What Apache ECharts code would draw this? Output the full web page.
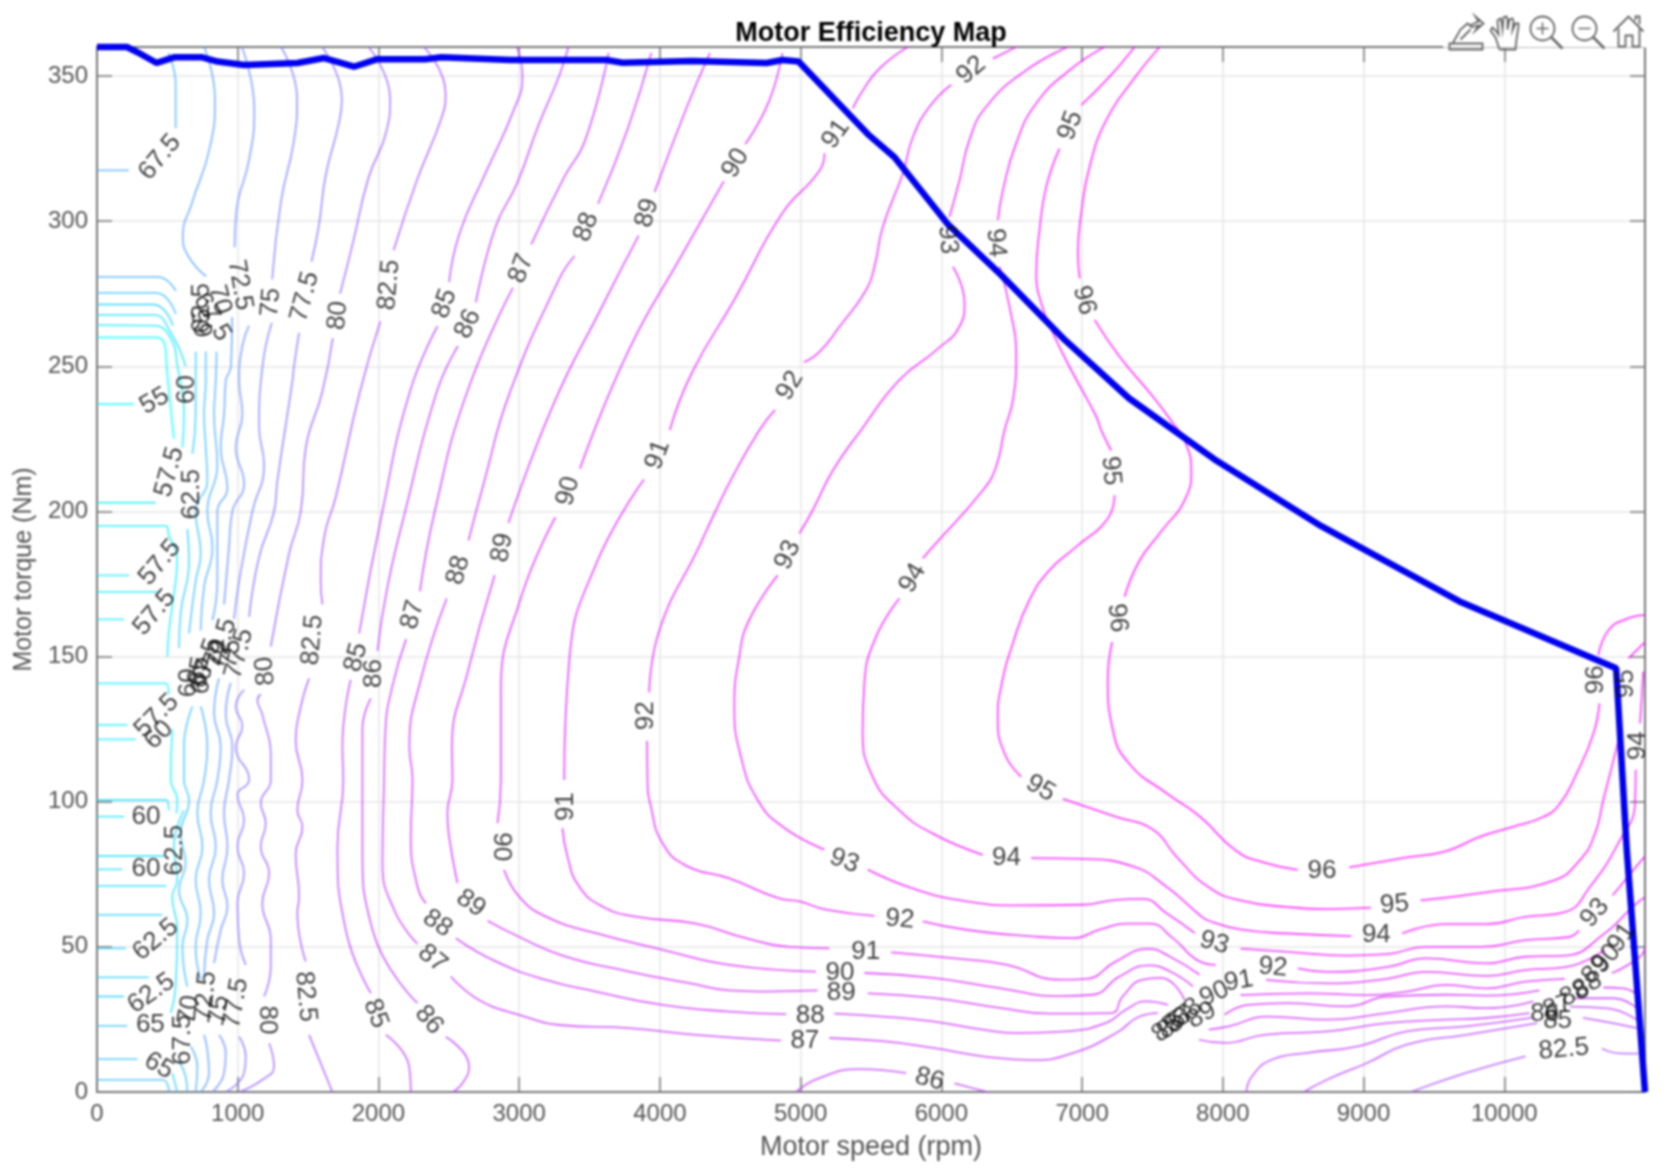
<!DOCTYPE html>
<html><head><meta charset="utf-8">
<style>html,body{margin:0;padding:0;background:#fff}#c{width:1671px;height:1175px;filter:blur(0.8px)}</style>
<script src="https://cdn.jsdelivr.net/npm/echarts@6/dist/echarts.min.js"></script>
</head><body><div id="c"></div>
<script>
const titleText='Motor Efficiency Map', xName='Motor speed (rpm)', yName='Motor torque (Nm)';
const maxTorque=[[0,360],[212,360],[310,357.6],[424,354.5],[553,356.5],[742,356.5],[856,355],[1045,353.8],[1424,354.5],[1614,356.2],[1826,353.2],[1992,355.8],[2333,355.8],[2447,356.5],[2939,355.5],[3621,355.5],[3735,354.6],[4227,355.2],[4758,354.5],[4871,355.5],[4985,355],[5477,330],[5667,322],[6045,299],[6424,281.5],[6879,259],[7333,239],[7939,218],[8697,195],[9682,169],[10795,146],[10871,83],[11000,0]];
const c55=[[0,260],[420,260],[490,255],[495,250],[530,233],[547,225],null,[0,237],[263,237]];
const c57_5=[[0,264.2],[400,264],[520,260],[572,250],[618,233],[606,222],null,[0,203],[417,203],null,[0,195],[490,195],[512,191.5],[570,184],[559,176],[512,159],[500,150],null,[0,178],[227,178],null,[0,172.3],[430,172.3],null,[0,162.8],[191,162.8],null,[0,140.8],[488,140.8],[510,137],null,[0,126.5],[216,126.5],null,[0,121.5],[275,121.5],null,[535,125],[524,107.5],[571,100.6],[564,96]];
const c60=[[0,267.7],[400,267.7],[520,262],[630,250],null,[0,100.6],[490,100.6],[510,97],null,[0,94.9],[192,94.9],null,[0,81.3],[476,81.3],null,[0,76.7],[180,76.7],null,[0,71],[493,71],null,[618,97],[547,84.5],[571,73],[535,67.3],[571,56],[559,36.3],[524,27.2]];
const c62_5=[[0,271.3],[400,271.3],[540,264],null,[702,255],[701,245],[701,233.5],[678,219.8],null,[642,194],[654,183],[595,165],[583,153],null,[0,61],[464,61],null,[0,49.5],[204,49.5],null,[0,39.5],[370,39.5],null,[0,32.9],[192,32.9],null,[535,6.5],[571,0]];
const c65=[[0,275.3],[420,275.3],[560,268],null,[773,255],[773,245],[761,233.5],[773,222],[784,210.6],[701,200],[737,185.5],[701,176],[654,158],null,[0,22.8],[215,22.8],null,[0,11.3],[287,11.3],null,[0,4.2],[464,4.2],[512,0],null,[678,132.8],[618,119],[618,107.5],[654,100.6],[595,89],[630,78.8],[583,69.6],[642,59],[607,50],[642,36.3],null,[583,10.5],[630,5.3],[642,0]];
const c67_5=[[508,358],[559,347],[559,332],null,[0,317.5],[227,317.5],null,[0,280.8],[430,280.8],[560,276],null,[850,255],[844,245],[832,233.5],[855,216],[784,200],[820,187.7],[761,174],[737,159],null,[737,132.8],[784,119],[761,107.5],[713,96],[749,84.5],[701,73],[737,61.6],[701,50],[737,38.6],null,[666,15.7],[713,8.8],[701,0]];
const c70=[[762,360],[838,342],[800,325],[673,306],[610,295],[648,288],[775,281],null,[960,267],[952,250],[915,245],[903,233.5],[879,222],[927,208],[855,200],[855,187.7],[855,176],[820,162.5],null,[867,142.5],[832,130.5],[879,119],[855,107.5],[808,96],[844,84.5],[796,73],[832,61.6],[784,52.4],[761,39.8],null,[761,19.7],[784,14.5],[796,6.5],[737,0]];
const c72_5=[[1029,360],[1118,338],[1080,321],[990,303],[978,291],null,[1080,264],[1033,257],[1010,245],[1033,233.5],[986,222],[1045,209.5],[962,200],[938,187.7],[903,168],null,[950,141],[915,130],[962,119],[938,107.5],[903,96],[927,84.5],[891,73],[927,64],[879,55.8],[832,44.4],null,[867,19.7],[915,13.4],[903,6.5],[820,0]];
const c75=[[1308,360],[1422,342],[1397,327],[1308,307],[1245,280],null,[1242,265],[1176,250],[1152,229],[1187,216],[1104,200],[1010,176],[974,163]];
const c77_5=[[1600,360],[1740,342],[1715,333],[1626,316],[1575,298],[1524,286],null,[1436,261.5],[1400,250],[1389,245],[1282,210.6],[1258,200],[1152,184.3],[1081,163.7],null,[1045,138.5],[986,132.8],[1033,126],[986,119],[1081,107.5],[998,102.3],[1045,93.7],[998,84.5],[1045,75.4],[998,65],[1010,52.4],[1057,43.8],null,[1010,19],[1057,12.2],[1045,6.5],[915,0]];
const c80=[[1930,360],[2083,342],[2057,331],[1930,315],[1816,292],[1727,275],null,[1676,259.7],[1600,241],[1484,222],[1448,200],[1365,185.5],[1235,153.4],null,[1164,137],[1140,135],[1175,130],[1235,115],[1235,107.5],[1164,99.5],[1199,92.6],[1164,84.5],[1223,75.4],[1175,65],[1235,52.4],[1235,43.2],[1187,32.9],null,[1223,16.8],[1258,8.8],[1175,4.2],[1010,0]];
const c82_5=[[2324,360],[2477,344],[2451,336],[2273,314],[2108,290],null,[2014,265.5],[1867,241],[1697,205],[1614,191],[1590,176],[1602,168],null,[1507,142.5],[1448,132.8],[1412,121],[1460,107.5],[1424,97],[1460,91.4],[1412,82],[1436,67.3],[1424,61.6],[1483,45],null,[1507,19.7],[1673,0],null,[9335,0],[9729,6.6],[10151,12.3],null,[10693,15],[10823,13.3],[10952,13.2]];
const c85=[[2985,360],[3023,350],[2959,338],[2756,316],[2578,296],[2502,279],null,[2420,263.8],[2222,241],[2028,200],[1863,158],null,[1803,142],[1744,119],[1750,107.5],[1709,84.5],[1768,55.8],[1946,34],null,[2052,19.7],[2218,8.8],[2230,0],null,[8575,0],[8744,4.3],[9025,10],[9307,16.3],[9729,19.7],[10235,23.7],null,[10559,25.5],[10770,23.7],[10941,22]];
const c86=[[3350,360],[3284,350],[3137,333],[2985,313],[2832,298],[2692,272],null,[2565,257],[2413,241],[2190,200],[2064,174],[1993,152],null,[1946,135.6],[1886,125],[1886,107.5],[1886,84.5],[1958,55.8],[2277,30.6],null,[2478,19],[2644,8.8],[2597,3],[2526,0],null,[4967,0],[5133,4.8],[5418,7.9],[5749,6.5],null,[6093,3],[6330,0],null,[8167,0],[8209,5.5],[8350,11.2],[8603,13.5],[8969,15.8],[9307,20.9],[9729,22.6],[10193,25.5],null,[10468,29.4],[10732,28.8],[10964,24.2]];
const c87=[[3636,358],[3470,328],[3318,315],[3086,292],null,[2955,277],[2629,241],[2400,200],[2295,172.5],null,[2197,156],[2100,140],[2050,125],[2040,107.5],[2029,79],[2112,62.7],[2277,51],null,[2514,39.8],[2715,31.7],[3000,26.6],[3308,23],[3782,22],[4256,19.7],[4860,17.7],null,[5204,18.6],[5583,17.5],[5939,15.2],[6294,12.3],[6650,11],[6934,13.4],[7243,20.3],[7408,26],[7539,27.2],null,[7830,18],[8013,16.9],[8294,19.7],[8744,20.9],[9166,23.7],[9588,24.9],[9869,25.5],[10179,27.2],null,[10492,32.3],[10775,32.3],[10964,28]];
const c88=[[3939,358],[3773,332],[3561,306],null,[3394,288],[3284,280],[2934,241],[2750,210],[2640,190],null,[2485,170],[2295,141],[2220,119],[2242,107.5],[2230,88],[2277,70.8],[2337,65],null,[2550,53],[2834,45],[3190,38.6],[3545,34.6],[4019,30],[4493,27.7],[4896,26.8],null,[5240,27],[5583,26],[5939,24.3],[6294,21.5],[6532,20.3],[6887,20.9],[7171,23.8],[7314,28.4],[7456,31.2],[7610,30],null,[7900,21.5],[8041,22.6],[8322,26],[8744,24.9],[9166,27.2],[9588,29.5],[9869,28.9],[10207,31.2],null,[10704,36],[10846,35.7],[10964,32.8]];
const c89=[[4356,358],[4189,339],[3962,310],null,[3849,295],[3583,270],[3242,236.7],[2924,196],null,[2826,178],[2636,145],[2523,119],[2526,107.5],[2490,96],[2502,88],[2561,72],null,[2775,59],[2976,54],[3308,47],[3782,41.5],[4209,37.5],[4493,35],[4730,34.6],[5120,35],null,[5477,34],[5939,32.4],[6413,29],[6769,27],[7207,27.2],[7290,33],[7432,38.7],[7562,39.3],[7728,31.8],null,[8013,26.6],[8181,30],[8463,30.6],[8885,29.5],[9166,32.9],[9588,33.5],[9869,33.2],[10250,35]];
const c90=[[4871,358],[4773,341],[4606,326.5],null,[4455,313.8],[4152,288],[3773,255],[3432,214.7],null,[3258,198],[3015,170.6],[2870,137.6],[2870,107.5],[2846,92.6],null,[2893,76.5],[3000,67.3],[3190,60.4],[3545,54.7],[4019,49],[4493,43.8],[5109,41.5],null,[5453,41],[5939,39.3],[6413,35.8],[6840,33],[7077,33.5],[7266,39.8],[7480,43.6],[7622,41.6],[7788,36.4],null,[8125,33.4],[8603,34],[9025,33.4],[9307,34.6],[9588,36.9],[9869,35.7],[10150,38],[10431,39],null,[10764,40.9],[10964,46.6],[11000,50]];
const c91=[[5762,360],[5561,352.6],[5442,345],[5371,338.9],null,[5170,323.4],[5136,317.5],[4871,302.8],[4530,273],[4227,247.7],[4070,228],null,[3887,211],[3545,181.7],[3356,148.6],[3320,107.5],null,[3308,90.9],[3344,81],[3426,70.8],[3592,63.9],[3829,60.4],[4256,58],[4611,53],[4920,50],[5204,49.5],null,[5643,48.1],[6057,46.2],[6460,43.9],[6840,38.7],[7029,39],[7242,45],[7468,49.3],[7622,46.7],[7835,40.4],null,[8308,38.6],[8744,37.4],[9166,39],[9447,41.4],[9869,40],[10150,42],[10431,43],[10713,48.9]];
const c92=[[6532,360],[6366,356],null,[6070,347],[5916,339.4],[5798,329],[5727,316.5],[5584,298],[5525,284.3],[5466,276.3],[5276,263.6],[5134,255],[5023,251.4],null,[4818,235],[4707,228],[4517,212],[4375,198],[4280,188],[4000,159.6],[3924,137.6],null,[3909,121],[3912,107.5],[3936,98.3],[4019,85.7],[4185,78],[4493,73.6],[4849,66.7],[4991,65.7],[5181,62.8],[5524,60.7],null,[5868,58.8],[6176,55.9],[6650,53.6],[6934,53],[7124,55.9],[7314,58],[7480,58],[7645,53],[7835,45],[7950,43.8],null,[8533,42.6],[8744,41.4],[9166,43],[9447,46],[9869,44.3],[10150,46.6],[10431,47],[10713,54.6],[10910,63.7],[10995,67]];
const c93=[[6900,360],[6603,352],[6319,339.4],[6200,328],[6129,314],[6058,301.5],null,[6082,284.3],[6165,271.7],[6129,263.7],[5964,255.6],[5703,245.3],[5429,228],[5228,214],[5086,200.4],[4991,192.4],null,[4837,178],[4635,162.6],[4564,150],[4529,132.7],[4576,115.5],[4695,100.6],[4872,91.4],[5169,83.5],null,[5477,76.6],[5821,69.7],[6176,65.7],[6532,64.3],[7005,64.5],[7242,66.2],[7432,66.5],[7598,61.7],[7800,54.8],null,[8125,49.4],[8463,48.3],[8885,47],[9166,47.5],[9447,50],[9841,50],[10150,52.3],[10460,53.4],[10531,55.7],null,[10770,67.7],[10910,76],[10995,81]];
const c94=[[7160,360],[6911,352],[6675,340.6],[6532,326.8],[6438,310.7],[6402,300.4],null,[6414,284.3],[6485,270.5],[6532,253.3],[6509,238.4],[6449,228],[6389,215.4],[6295,207.3],[5939,187.8],[5868,183.8],null,[5702,170],[5536,156.8],[5453,140.7],[5441,124.7],[5512,108.6],[5702,97],[5939,89],[6294,81.7],null,[6638,80.6],[7005,80.3],[7361,77.7],[7598,70.8],[7835,61],[7900,59],[8125,56],[8463,54.6],[8913,53.7],null,[9273,54.6],[9588,57.8],[9869,57.8],[10150,60.3],[10431,62],[10610,70.7],[10823,86.8],[10929,99.4],[10934,111],null,[10965,127],[10988,144.8]];
const c95=[[7374,360],[7196,349.8],[6994,340],null,[6840,325],[6746,311.9],[6698,297],[6675,282],[6710,271.7],[6793,261.4],[6935,247.6],[7101,232.7],[7136,228],[7207,221],null,[7231,205.6],[7183,197.6],[6958,187.8],[6769,179.8],[6626,169.4],[6508,154.5],[6425,139.6],[6401,129],[6449,116.6],[6567,108.6],null,[6863,101],[7243,94.8],[7503,90.4],[7669,81.2],[7900,70.5],[8125,66],[8463,63.7],[8744,63],[9053,63.5],null,[9405,66],[9869,68.8],[10348,72.8],[10539,80],[10645,89],[10704,100.6],[10764,112],[10811,121],null,[10882,149.4],[11000,155]];
const c96=[[7551,360],[7362,348.6],[7172,334.8],[7054,318.8],[6994,302.7],[6971,289],[6983,280.3],null,[7089,266],[7267,253.3],[7504,239.5],[7646,230.4],[7728,224.6],[7776,214],[7740,205],[7551,192.4],[7408,183],[7302,170.6],null,[7214,155],[7183,142],[7219,124.7],[7337,113],[7598,103],[7835,95],[8097,83],[8294,79],[8533,76.5],null,[8899,77.4],[9307,80.8],[9588,83],[9830,88],[10066,91.4],[10279,94.8],[10397,99.4],[10515,109.8],[10634,123.5],[10676,133.9],null,[10669,150.5],[10740,159],[10870,163],[11000,164.3]];
const levels=[55,57.5,60,62.5,65,67.5,70,72.5,75,77.5,80,82.5,85,86,87,88,89,90,91,92,93,94,95,96];
const contours=[c55,c57_5,c60,c62_5,c65,c67_5,c70,c72_5,c75,c77_5,c80,c82_5,c85,c86,c87,c88,c89,c90,c91,c92,c93,c94,c95,c96];
const labelTexts=['67.5','72.5','70','67.5','65','62.5','75','77.5','80','82.5','85','86','87','88','89','90','91','92','95','96','94','93','92','91','90','89','88','87','86','85','82.5','80','77.5','75','72.5','70','67.5','65','60','60','60','55','57.5','62.5','57.5','57.5','57.5','60','60','60','62.5','62.5','62.5','65','67.5','65','70','72.5','75','77.5','80','82.5','85','86','87','88','89','90','91','92','93','94','95','96','95','93','94','96','92','91','90','89','88','87','86','93','92','91','90','89','88','87','86','85','95','94','82.5','85','86','87','88','88','89','90','91','93','96','95','94'];
const labelX=[447,1015,871,818,758,742,1235,1477,1712,2076,2470,2636,3015,3477,3909,4538,5250,6212,6917,7015,6387,6045,4924,3985,3348,2879,2568,2242,1970,1841,1531,1197,1010,950,891,844,773,725,654,749,636,409,515,674,447,409,424,439,348,348,553,417,386,379,607,439,654,773,867,986,1211,1483,1981,2360,2384,2420,2657,2870,3332,3902,4909,5796,7205,7250,6705,5311,6462,8705,5705,5462,5280,5288,5068,5030,5917,7940,8356,8114,7940,7849,7750,7697,7637,7600,9220,9091,10424,10379,10288,10379,10500,10591,10652,10727,10834,10644,10652,10864,10947];
const labelY=[322,278,273,267,265,270,272,274,267.5,278,271.6,264.6,283.7,298,302.8,320,330,352,332.9,272.7,292.5,293.6,243.3,219.5,207,187.5,179.8,164.4,144.2,149.7,155.7,145,151,151,154.5,151,147.6,145,141,142,242,238,213.6,205.9,182.4,165.2,129.6,123,94.7,77,83.3,52.5,34,23,18,9,28.3,32.9,28.3,30.6,24.8,32.9,27,24.8,46,58.1,65,84.5,98.3,129.6,185,177,214,163.3,104.6,79.6,80.7,76.3,59.5,48.4,41,34,26.4,17.6,4.4,51.4,42.9,38.2,33.8,26.4,27.5,25,23,22,64.6,54,14.7,24.6,26.8,29.4,33.8,36.7,42.2,45.9,53.2,61.7,142,140.6,119.3];
const labelAngles=[50,-80,-75,-60,100,90,85,75,85,85,70,65,70,70,75,60,55,40,70,-75,-85,-85,60,70,75,80,75,75,90,75,85,95,75,80,75,70,70,80,90,80,90,30,75,90,50,50,45,45,0,0,90,40,35,0,90,-30,80,85,85,80,-90,-85,-70,-50,-40,-35,-35,-90,90,90,65,60,-85,-85,-30,-20,0,0,-5,0,0,0,0,0,-15,-15,-5,10,25,30,40,40,40,40,5,0,5,0,0,20,25,30,50,50,55,50,90,90,90];
const xTicks=[0,1000,2000,3000,4000,5000,6000,7000,8000,9000,10000];
const yTicks=[0,50,100,150,200,250,300,350];

const font='"Liberation Sans",Arial,sans-serif';
function coolColor(v){const t=(v-55)/41;const r=Math.round(255*t),g=Math.round(255*(1-t));return 'rgb('+r+','+g+',255)';}
const lineSeries=contours.map((pts,i)=>({type:'line',name:String(levels[i]),data:pts.map(p=>p||['-','-']),showSymbol:false,symbol:'none',smooth:0.5,connectNulls:false,clip:true,silent:true,z:3,lineStyle:{width:1.8,color:coolColor(levels[i]),opacity:0.72}}));
const labelSeries={type:'scatter',symbolSize:1,silent:true,z:6,itemStyle:{color:'rgba(255,255,255,0)'},data:labelTexts.map((t,i)=>({value:[labelX[i],labelY[i]],label:{show:true,position:'inside',align:'center',verticalAlign:'middle',rotate:labelAngles[i],formatter:t,color:'#111',fontSize:26,fontFamily:font}}))};
const maxSeries={type:'line',data:maxTorque,showSymbol:false,symbol:'none',clip:false,silent:true,z:5,lineStyle:{width:6.5,color:'#0000f0'}};
const axisCommon={min:0,axisLine:{show:true,onZero:false,lineStyle:{color:'#777',width:2}},axisTick:{show:true,inside:true,length:15,lineStyle:{color:'#777',width:1.5}}};
const labelStyle={color:'#555',fontSize:24,fontFamily:font};
const st={fill:'none',stroke:'#666',lineWidth:1.8};
function poly(pts){return {type:'polyline',z:100,shape:{points:pts},style:st};}
function ln(a,b,c,d,w){return {type:'line',z:100,shape:{x1:a,y1:b,x2:c,y2:d},style:{stroke:'#666',lineWidth:w}};}
function circ(){return {type:'circle',z:100,shape:{cx:13,cy:13,r:12},style:st};}
const chart=echarts.init(document.getElementById('c'),null,{renderer:'canvas'});
chart.setOption({
 animation:false,backgroundColor:'#fff',
 title:{text:titleText,left:866,top:15,textAlign:'center',textStyle:{color:'#000',fontSize:27,fontWeight:'bold',fontFamily:font}},
 grid:{left:97,top:47,width:1548,height:1045,containLabel:false},
 xAxis:[
  Object.assign({},axisCommon,{type:'value',position:'bottom',max:11000,interval:1000,name:xName,nameLocation:'middle',nameGap:42,nameTextStyle:{color:'#555',fontSize:27,fontFamily:font},
    axisLabel:Object.assign({},labelStyle,{margin:10,formatter:v=>xTicks.includes(v)?String(v):''}),splitLine:{show:true,lineStyle:{color:'#e6e6e6',width:1.5}}}),
  Object.assign({},axisCommon,{type:'value',position:'top',max:11000,interval:1000,axisLabel:{show:false},splitLine:{show:false}})
 ],
 yAxis:[
  Object.assign({},axisCommon,{type:'value',position:'left',max:360,interval:50,name:yName,nameLocation:'middle',nameGap:59,nameTextStyle:{color:'#555',fontSize:25,fontFamily:font},
    axisLabel:Object.assign({},labelStyle,{margin:9,formatter:v=>yTicks.includes(v)?String(v):''}),splitLine:{show:true,lineStyle:{color:'#e6e6e6',width:1.5}}}),
  Object.assign({},axisCommon,{type:'value',position:'right',max:360,interval:50,axisLabel:{show:false},splitLine:{show:false}})
 ],
 graphic:{elements:[
  {type:'rect',left:1443,top:10,z:99,shape:{width:220,height:37.5},style:{fill:'#fff'}},
  {type:'group',left:1447,top:14,z:100,children:[
    poly([[1,28],[34,28],[34,34],[1,34],[1,28],[4,28],[12,14],[19,8],[24,12]]),
    poly([[12,24],[22,14]]),
    poly([[21,10],[30,6],[27,1],[35,8],[27,15],[30,10],[22,12]])
  ]},
  {type:'group',left:1488,top:14,z:100,children:[
    poly([[10,34],[6,22],[1,15],[3,12],[7,16],[9,19],[8,5],[11,3],[12,6],[13,14],[14,2],[17,1],[18,4],[18,14],[20,4],[23,3],[24,6],[23,15],[26,8],[29,8],[29,11],[27,24],[26,34],[10,34]])
  ]},
  {type:'group',left:1528,top:14,z:100,children:[circ(),ln(22,22,33,33,2.5),ln(7,13,19,13,1.5),ln(13,7,13,19,1.5)]},
  {type:'group',left:1570,top:14,z:100,children:[circ(),ln(22,22,33,33,2.5),ln(7,13,19,13,1.5)]},
  {type:'group',left:1611,top:14,z:100,children:[
    poly([[1,17],[16,2],[31,17]]),
    poly([[6,14],[6,32],[13,32],[13,21],[20,21],[20,32],[27,32],[27,14]]),
    poly([[23,6],[23,2],[27,2],[27,10]])
  ]}
 ]},
 series:[...lineSeries,maxSeries,labelSeries]
});
</script></body></html>
